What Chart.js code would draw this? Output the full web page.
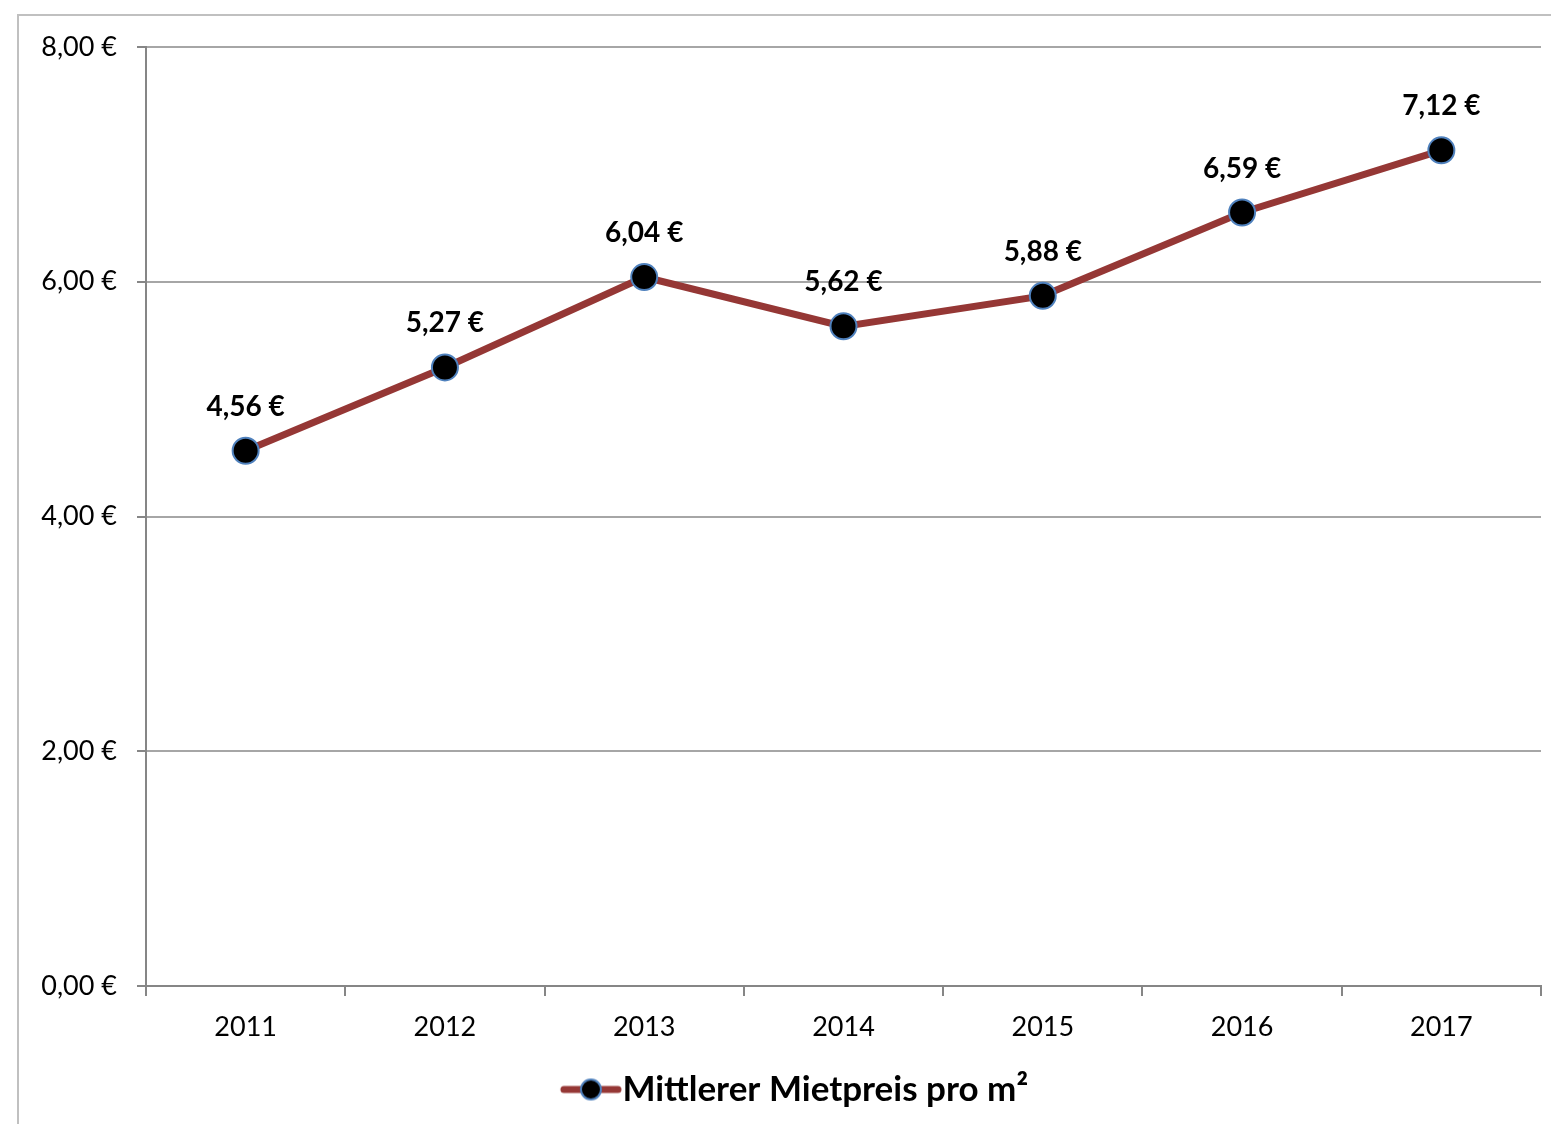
<!DOCTYPE html>
<html>
<head>
<meta charset="utf-8">
<script src="https://cdn.jsdelivr.net/npm/chart.js@4/dist/chart.umd.min.js"></script>
<style>
  html, body { margin: 0; padding: 0; background: #fff; }
  #wrap { position: absolute; left: 0; top: 0; width: 1551px; height: 1124px; }
</style>
</head>
<body>
<div id="wrap"><canvas id="c" width="1551" height="1124"></canvas></div>
<script>
const categories = ['2011', '2012', '2013', '2014', '2015', '2016', '2017'];
const rentValues = [4.56, 5.27, 6.04, 5.62, 5.88, 6.59, 7.12];
const seriesName = 'Mittlerer Mietpreis pro m²';
const yTicks = [0, 2, 4, 6, 8];

const FONT = 'Lato, "Liberation Sans", sans-serif';
const LINE_COLOR = '#953735';
const fmt = v => v.toFixed(2).replace('.', ',') + ' €';

// legend symbol: line with a marker in the middle (drawn in the right part of a wider image)
const sym = document.createElement('canvas');
sym.width = 140; sym.height = 26;
(function () {
  const g = sym.getContext('2d');
  g.lineCap = 'round';
  g.strokeStyle = LINE_COLOR;
  g.lineWidth = 7;
  g.beginPath(); g.moveTo(66, 13); g.lineTo(120, 13); g.stroke();
  g.beginPath(); g.arc(93, 13, 10, 0, Math.PI * 2);
  g.fillStyle = '#000'; g.fill();
  g.lineWidth = 2; g.strokeStyle = '#4f81bd'; g.stroke();
})();

const framePlugin = {
  id: 'frame',
  beforeDraw(chart) {
    const ctx = chart.ctx;
    ctx.save();
    ctx.strokeStyle = '#c0c0c0';
    ctx.lineWidth = 2;
    ctx.beginPath();
    ctx.moveTo(17, 15); ctx.lineTo(1551, 15);
    ctx.moveTo(18, 14); ctx.lineTo(18, 1124);
    ctx.stroke();
    ctx.restore();
  }
};

const labelPlugin = {
  id: 'valueLabels',
  afterDatasetsDraw(chart) {
    const ctx = chart.ctx;
    const meta = chart.getDatasetMeta(0);
    ctx.save();
    ctx.font = 'bold 28px ' + FONT;
    ctx.fillStyle = '#000';
    ctx.textAlign = 'center';
    ctx.textBaseline = 'middle';
    meta.data.forEach((pt, i) => {
      ctx.fillText(fmt(rentValues[i]), pt.x, pt.y - 44);
    });
    ctx.restore();
  }
};

new Chart(document.getElementById('c'), {
  type: 'line',
  data: {
    labels: categories,
    datasets: [{
      label: seriesName,
      data: rentValues,
      borderColor: LINE_COLOR,
      borderWidth: 7,
      tension: 0,
      pointRadius: 13,
      pointHoverRadius: 13,
      pointBackgroundColor: '#000',
      pointBorderColor: '#4f81bd',
      pointBorderWidth: 2,
      clip: false
    }]
  },
  options: {
    responsive: false,
    animation: false,
    events: [],
    layout: { autoPadding: false, padding: { left: 18, right: 10, top: 47, bottom: 7 } },
    plugins: {
      tooltip: { enabled: false },
      legend: {
        position: 'bottom',
        labels: {
          usePointStyle: true,
          pointStyleWidth: 74,
          padding: 10,
          color: '#000',
          font: { family: FONT, size: 35, weight: 'bold' },
          generateLabels: chart => [{
            text: seriesName,
            pointStyle: sym,
            fillStyle: LINE_COLOR,
            strokeStyle: LINE_COLOR,
            lineWidth: 0,
            datasetIndex: 0,
            hidden: false
          }]
        }
      }
    },
    scales: {
      x: {
        offset: true,
        afterFit: s => { s.height = 76; s.paddingLeft = 0; s.paddingRight = 0; },
        grid: {
          offset: true,
          drawOnChartArea: false,
          drawTicks: true,
          tickLength: 10,
          color: '#868686',
          lineWidth: 2
        },
        border: { display: true, color: '#868686', width: 2 },
        ticks: {
          color: '#000',
          padding: 15,
          font: { family: FONT, size: 27 }
        }
      },
      y: {
        min: 0,
        max: 8,
        afterFit: s => { s.width = 128; },
        afterBuildTicks: s => { s.ticks = yTicks.map(v => ({ value: v })); },
        grid: {
          color: '#a6a6a6',
          lineWidth: 2,
          tickLength: 9,
          tickColor: '#868686'
        },
        border: { display: true, color: '#868686', width: 2 },
        ticks: {
          color: '#000',
          padding: 20,
          font: { family: FONT, size: 27 },
          callback: v => fmt(v)
        }
      }
    }
  },
  plugins: [framePlugin, labelPlugin]
});
</script>
</body>
</html>
